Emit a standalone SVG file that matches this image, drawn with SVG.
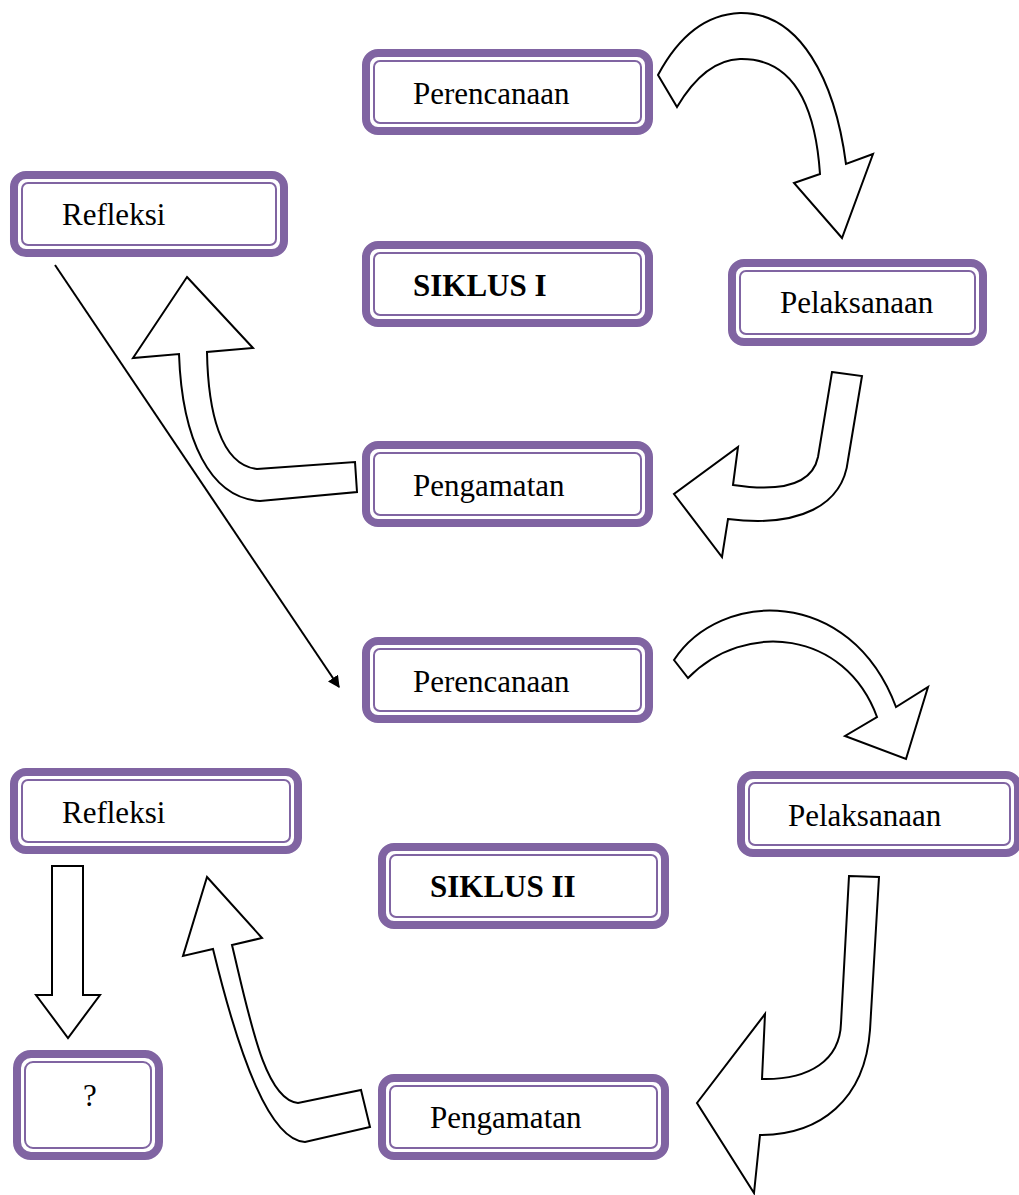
<svg xmlns="http://www.w3.org/2000/svg" width="1019" height="1195" viewBox="0 0 1019 1195">
<style>
.o{fill:#fff;stroke:#8064A2;stroke-width:8}
.i{fill:none;stroke:#8064A2;stroke-width:2}
.t{font-family:"Liberation Serif","Times New Roman",serif;font-size:31px;fill:#000}
.b{font-weight:bold}
.ar{fill:#fff;stroke:#000;stroke-width:2;stroke-linejoin:miter}
.ln{stroke:#000;stroke-width:2;fill:none}
</style>
<defs>
<marker id="ah" viewBox="0 0 10 10" refX="9" refY="5" markerWidth="6" markerHeight="6" orient="auto" markerUnits="strokeWidth">
<path d="M0,0 L10,5 L0,10 Z" fill="#000"/>
</marker>
</defs>
<g id="connectors">
<path class="ar" d="M658,75 Q690,15 740,13 C800,12 835,80 846,164 L873,154 L842,238 L794,183 L820,174 C815,100 790,58 740,59 Q705,60 677,107 Z"/>
<path class="ar" d="M832,372 L862,376 L848,460 C843,505 800,528 728,519 L722,557 L674,494 L738,447 L733,485 C780,492 812,485 818,457 Z"/>
<path class="ar" d="M187,277 L253,348 L207,352 C208,410 220,465 257,469 L355,462 L357,492 L260,501 C210,498 182,440 179,354 L133,358 Z"/>
<line class="ln" x1="55" y1="265" x2="339" y2="687" marker-end="url(#ah)"/>
<path class="ar" d="M674,660 C720,590 850,585 896,707 L928,687 L906,759 L845,736 L877,717 C845,630 745,620 688,678 Z"/>
<path class="ar" d="M849,876 L879,877 L870,1030 C865,1100 820,1135 760,1135 L754,1193 L697,1103 L765,1014 L762,1079 C810,1080 840,1060 841,1023 Z"/>
<path class="ar" d="M207,877 L262,938 L232,945 C250,1020 265,1100 298,1103 L361,1090 L370,1127 L305,1142 C270,1140 240,1060 213,949 L183,956 Z"/>
<path class="ar" d="M52,866 L83,866 L83,995 L100,995 L68,1038 L36,995 L52,995 Z"/>
</g>
<g id="perencanaan1">
<rect class="o" x="366" y="53" width="283" height="78" rx="12"/>
<rect class="i" x="374" y="61" width="267" height="62" rx="6"/>
<text class="t" x="413" y="104">Perencanaan</text>
</g>
<g id="refleksi1">
<rect class="o" x="14" y="175" width="270" height="78" rx="12"/>
<rect class="i" x="22" y="183" width="254" height="62" rx="6"/>
<text class="t" x="62" y="225">Refleksi</text>
</g>
<g id="siklus1">
<rect class="o" x="366" y="245" width="283" height="78" rx="12"/>
<rect class="i" x="374" y="253" width="267" height="62" rx="6"/>
<text class="t b" x="413" y="296">SIKLUS I</text>
</g>
<g id="pelaksanaan1">
<rect class="o" x="732" y="263" width="251" height="79" rx="12"/>
<rect class="i" x="740" y="271" width="235" height="63" rx="6"/>
<text class="t" x="780" y="313">Pelaksanaan</text>
</g>
<g id="pengamatan1">
<rect class="o" x="366" y="445" width="283" height="78" rx="12"/>
<rect class="i" x="374" y="453" width="267" height="62" rx="6"/>
<text class="t" x="413" y="496">Pengamatan</text>
</g>
<g id="perencanaan2">
<rect class="o" x="366" y="641" width="283" height="78" rx="12"/>
<rect class="i" x="374" y="649" width="267" height="62" rx="6"/>
<text class="t" x="413" y="692">Perencanaan</text>
</g>
<g id="refleksi2">
<rect class="o" x="14" y="772" width="284" height="78" rx="12"/>
<rect class="i" x="22" y="780" width="268" height="62" rx="6"/>
<text class="t" x="62" y="823">Refleksi</text>
</g>
<g id="siklus2">
<rect class="o" x="382" y="847" width="283" height="78" rx="12"/>
<rect class="i" x="390" y="855" width="267" height="62" rx="6"/>
<text class="t b" x="430" y="897">SIKLUS II</text>
</g>
<g id="pelaksanaan2">
<rect class="o" x="741" y="775" width="277" height="78" rx="12"/>
<rect class="i" x="749" y="783" width="261" height="62" rx="6"/>
<text class="t" x="788" y="826">Pelaksanaan</text>
</g>
<g id="pengamatan2">
<rect class="o" x="382" y="1078" width="283" height="78" rx="12"/>
<rect class="i" x="390" y="1086" width="267" height="62" rx="6"/>
<text class="t" x="430" y="1128">Pengamatan</text>
</g>
<g id="hasil">
<rect class="o" x="17" y="1054" width="142" height="102" rx="14"/>
<rect class="i" x="25" y="1062" width="126" height="86" rx="8"/>
<text class="t" x="83" y="1106">?</text>
</g>
</svg>
